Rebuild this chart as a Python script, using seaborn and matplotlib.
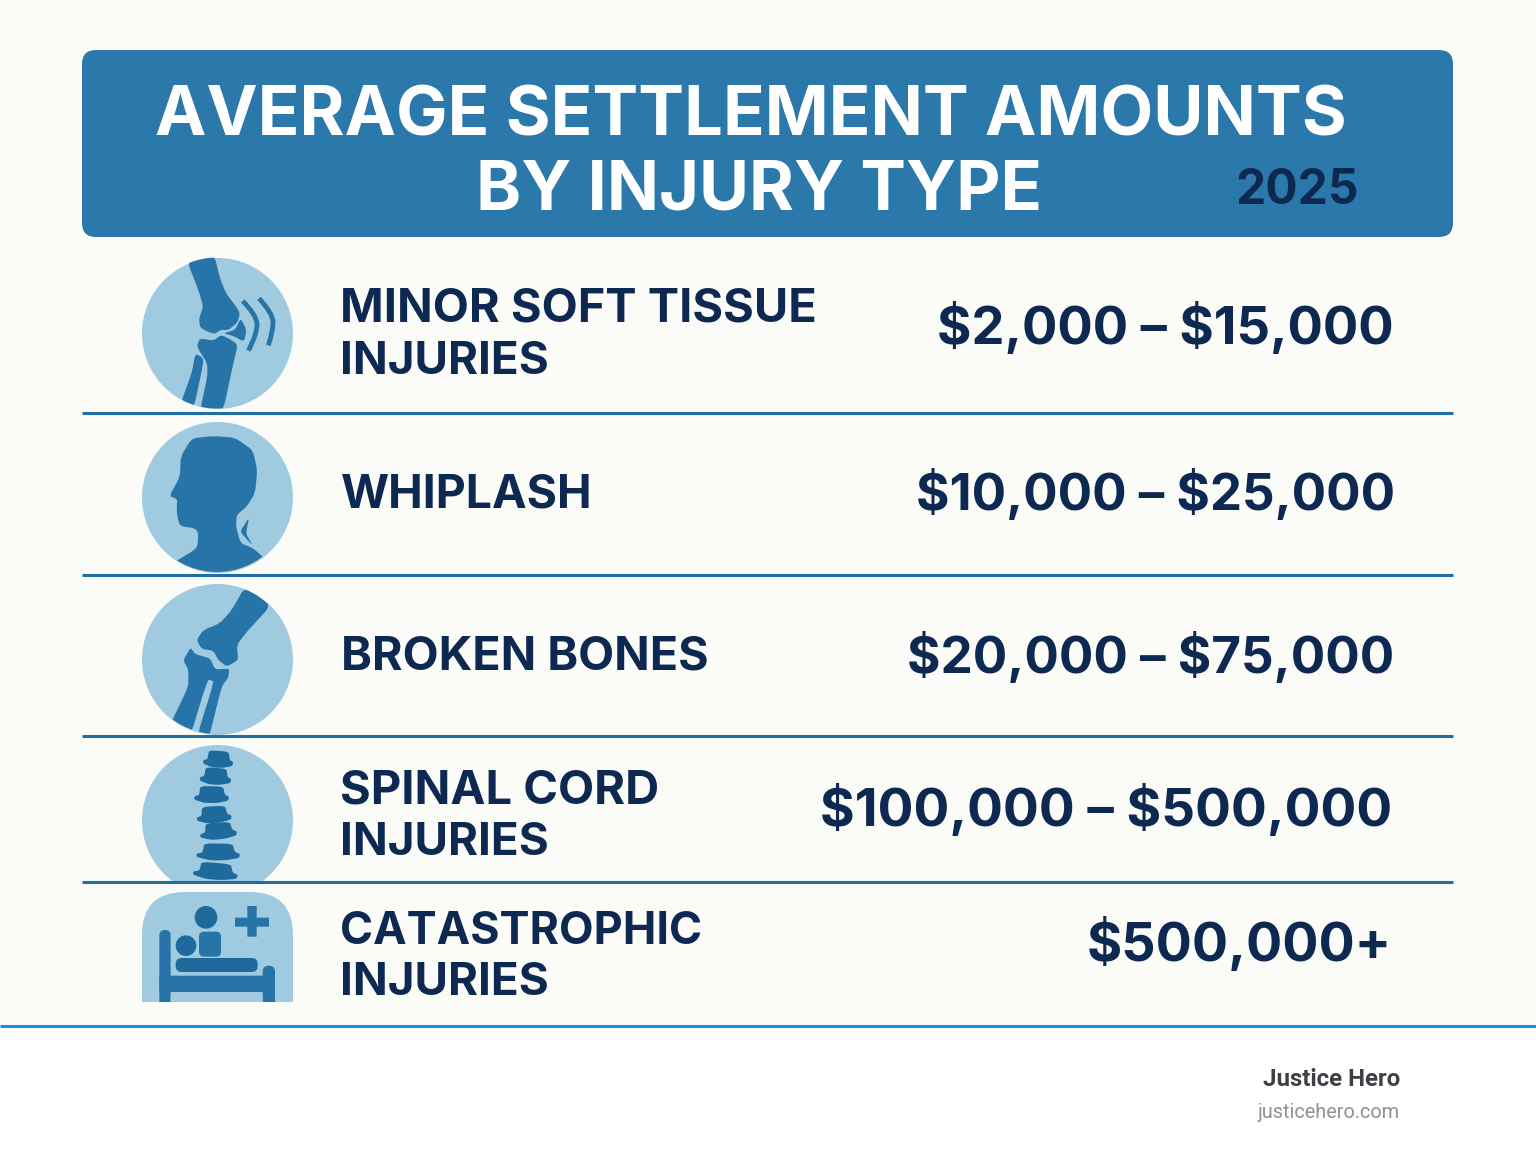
"""
Average settlement amounts by injury type, drawn as a table style infographic.
"""

import matplotlib
matplotlib.use("Agg")
import matplotlib.pyplot as plt
import numpy as np
import pandas as pd
import seaborn as sns
from matplotlib.patches import FancyBboxPatch, PathPatch, Rectangle, Circle
from matplotlib.path import Path

TITLE_LINES = ["AVERAGE SETTLEMENT AMOUNTS", "BY INJURY TYPE"]
YEAR_LABEL = "2025"
INJURY_LABELS = [
    ["MINOR SOFT TISSUE", "INJURIES"],
    ["WHIPLASH"],
    ["BROKEN BONES"],
    ["SPINAL CORD", "INJURIES"],
    ["CATASTROPHIC", "INJURIES"],
]
AMOUNT_LABELS = [
    "$2,000 – $15,000",
    "$10,000 – $25,000",
    "$20,000 – $75,000",
    "$100,000 – $500,000",
    "$500,000+",
]
FOOTER_NAME = "Justice Hero"
FOOTER_URL = "justicehero.com"

BG = "#FBFBF7"
BANNER = "#2B78AB"
NAVY = "#0D2951"
BADGE = "#A0CADF"
ICON = "#2775A8"
ICON_DK = "#1F6A9C"
RULE = "#1F6FA5"
FONT = "Inter"

sns.set_theme(style="white")
plt.rcParams["font.family"] = [FONT, "DejaVu Sans"]

fig = plt.figure(figsize=(15.36, 11.54), dpi=100, facecolor="white")
ax = fig.add_axes([0, 0, 1, 1])
ax.set_xlim(0, 1536)
ax.set_ylim(1154, 0)
ax.axis("off")


def fit_text(s, x0, x1, base, color=NAVY, weight="bold", family=FONT, z=6):
    # scale font size so the string spans x0..x1 in pixels
    t = ax.text(x0, base, s, color=color, fontweight=weight, family=[family, "DejaVu Sans"],
                fontsize=30, ha="left", va="baseline", zorder=z, parse_math=False)
    w = t.get_window_extent(fig.canvas.get_renderer()).width
    t.set_fontsize(30 * (x1 - x0) / w)
    return t


def blob(points, ox, oy, color=ICON, z=3, clip=None, t=0.28):
    # closed shape from zoomed-in sketch coords (1/3 px), corners rounded a bit
    pts = np.array(points, dtype=float) / 3 + [ox, oy]
    prev_pts = np.roll(pts, 1, axis=0)
    next_pts = np.roll(pts, -1, axis=0)
    verts, codes = [], []
    for p, a, b in zip(pts, prev_pts, next_pts):
        verts += [p + t * (a - p), p, p + t * (b - p)]
        codes += [Path.LINETO, Path.CURVE3, Path.CURVE3]
    codes[0] = Path.MOVETO
    patch = PathPatch(Path(verts, codes), fc=color, ec="none", zorder=z)
    ax.add_patch(patch)
    if clip is not None:
        patch.set_clip_path(clip)
    return patch


def stroke(points, ox, oy, width, color=ICON, z=3):
    pts = np.array(points, dtype=float) / 3 + [ox, oy]
    verts = [pts[0]]
    codes = [Path.MOVETO]
    for i in range(1, len(pts) - 1):
        end = pts[i + 1] if i == len(pts) - 2 else (pts[i] + pts[i + 1]) / 2
        verts += [pts[i], end]
        codes += [Path.CURVE3, Path.CURVE3]
    ax.add_patch(PathPatch(Path(verts, codes), fc="none", ec=color, lw=width * 0.72,
                           capstyle="butt", zorder=z))


def rbox(x0, y0, x1, y1, r, color, ox, oy, z=3):
    x0, x1 = x0 / 3 + ox, x1 / 3 + ox
    y0, y1 = y0 / 3 + oy, y1 / 3 + oy
    ax.add_patch(FancyBboxPatch((x0 + r, y0 + r), x1 - x0 - 2 * r, y1 - y0 - 2 * r,
                                boxstyle=f"round,pad={r},rounding_size={r}",
                                fc=color, ec="none", zorder=z))


def dot(x, y, r, color, ox, oy, z=3):
    ax.add_patch(Circle((x / 3 + ox, y / 3 + oy), r / 3, fc=color, ec="none", zorder=z))


# page areas
ax.add_patch(Rectangle((0, 0), 1536, 1025, fc=BG, ec="none", zorder=0))
ax.plot([0, 1536], [1025.5, 1025.5], color="#1590DC", lw=2.2, zorder=9, solid_capstyle="butt")

# banner
ax.add_patch(FancyBboxPatch((96, 64), 1343, 159, boxstyle="round,pad=14,rounding_size=14",
                            fc=BANNER, ec="none", zorder=1))
fit_text(TITLE_LINES[0], 155, 1346, 135, color="white")
fit_text(TITLE_LINES[1], 476, 1042, 210, color="white")
fit_text(YEAR_LABEL, 1235, 1358, 204, color=NAVY)

# round badges behind the first four icons
badges = pd.DataFrame({"x": [217, 217, 217, 217], "y": [333, 497, 659, 820]})
sns.scatterplot(data=badges, x="x", y="y", s=(2 * 75.5 * 0.72) ** 2, color=BADGE,
                linewidth=0, ax=ax, zorder=2, legend=False)
ax.set_xlim(0, 1536)
ax.set_ylim(1154, 0)

# knee icon
clip1 = Circle((217, 333), 75.5, transform=ax.transData)
OX, OY = 120, 250
blob([(200, 30), (283, 15), (300, 85), (318, 130), (345, 165), (360, 190),
      (352, 218), (325, 240), (300, 240), (285, 252), (262, 245), (240, 232), (237, 205),
      (250, 170), (235, 120)], OX, OY, clip=clip1)
blob([(362, 205), (380, 240), (372, 275), (340, 258), (310, 250), (345, 240)], OX, OY)
blob([(240, 265), (280, 272), (305, 254), (354, 282), (340, 340), (308, 490),
      (238, 490), (262, 380), (262, 340), (230, 290)], OX, OY, clip=clip1)
blob([(226, 310), (250, 325), (248, 350), (220, 480), (180, 465), (215, 370)], OX, OY, clip=clip1)
stroke([(368, 153), (410, 195), (412, 250), (385, 302)], OX, OY, 4.8)
stroke([(417, 145), (458, 190), (460, 240), (445, 286)], OX, OY, 4.8)

# head icon
clip2 = Circle((217, 497), 75, transform=ax.transData)
blob([(160, 938), (232, 895), (235, 850), (225, 835), (180, 828), (172, 800), (170, 770),
      (172, 748), (148, 738), (180, 680), (182, 620), (215, 565), (280, 558), (345, 563),
      (398, 600), (412, 660), (405, 730), (380, 770), (350, 795), (348, 830), (362, 880), (395, 892),
      (435, 925), (380, 985), (290, 985), (200, 985)], OX, OY, clip=clip2)
blob([(387, 803), (360, 845), (398, 887), (378, 850)], OX, OY, t=0.2)

# elbow icon
clip3 = Circle((217, 659), 75, transform=ax.transData)
OX, OY = 120, 580
blob([(375, 20), (455, 75), (385, 150), (350, 195), (355, 240), (320, 260),
      (295, 240), (280, 212), (245, 207), (230, 180), (250, 150), (300, 130), (335, 90)],
     OX, OY, clip=clip3)
blob([(212, 203), (225, 222), (270, 235), (285, 268), (328, 266), (325, 292), (305, 320), (265, 480),
      (232, 465), (282, 305), (265, 298), (250, 340), (212, 465), (150, 435), (205, 320),
      (205, 270), (190, 240)], OX, OY, clip=clip3, t=0.22)

# spine icon
# cx, cy, bottom width, tilt in degrees
VERTEBRA_SHAPE = [(-0.33, -0.5), (0.33, -0.47), (0.38, 0.02), (0.5, 0.14), (0.48, 0.38), (0.15, 0.52),
                  (-0.2, 0.52), (-0.5, 0.32), (-0.5, 0.12), (-0.36, 0.04)]
for cx, cy, w, tilt in [(295, 537, 90, 3), (287, 588, 94, 3), (275, 643, 104, 0), (282, 703, 104, -4),
                        (295, 752, 110, -5), (295, 815, 130, 0), (287, 873, 134, 4)]:
    a = np.radians(tilt)
    rot = np.array([[np.cos(a), -np.sin(a)], [np.sin(a), np.cos(a)]])
    shape = np.array(VERTEBRA_SHAPE) * [w, 50]
    blob((shape @ rot.T) + [cx, cy], OX, OY, color=ICON_DK)

# cover the badge and spine below the row rule
ax.add_patch(Rectangle((130, 882), 180, 20, fc=BG, ec="none", zorder=4))

# hospital icon
rx0, rx1, ry0, ry1 = 142, 293, 892, 1002
ax.add_patch(PathPatch(Path(
    [(rx0, ry1), (rx0, 935), (rx0, ry0), (185, ry0), (250, ry0), (rx1, ry0), (rx1, 935), (rx1, ry1), (rx0, ry1)],
    [Path.MOVETO, Path.LINETO, Path.CURVE3, Path.CURVE3, Path.LINETO, Path.CURVE3, Path.CURVE3,
     Path.LINETO, Path.CLOSEPOLY]), fc=BADGE, ec="none", zorder=5))
rbox(118, 1050, 152, 1330, 5.5, ICON, OX, OY, z=6)
rbox(428, 1157, 465, 1330, 6, ICON, OX, OY, z=6)
rbox(118, 1187, 465, 1236, 1, ICON, OX, OY, z=6)
rbox(167, 1134, 413, 1176, 6, ICON_DK, OX, OY, z=6)
rbox(237, 1055, 303, 1130, 5, ICON, OX, OY, z=6)
dot(198, 1097, 31, ICON_DK, OX, OY, z=6)
dot(258, 1012, 34, ICON_DK, OX, OY, z=6)
rbox(382, 978, 410, 1070, 0.5, ICON, OX, OY, z=6)
rbox(345, 1013, 447, 1040, 0.5, ICON, OX, OY, z=6)
rbox(152, 1236, 428, 1290, 5, BADGE, OX, OY, z=7)
ax.add_patch(Rectangle((130, 1002), 180, 23, fc=BG, ec="none", zorder=8))

# row rules
for y in [413, 575, 736, 882]:
    ax.plot([82, 1453], [y, y], color=RULE, lw=2.2, zorder=5, solid_capstyle="butt")

# row text
LABEL_SPANS = [[(340, 815, 322), (340, 549, 374)],
               [(341, 593, 508)],
               [(341, 708, 670)],
               [(340, 659, 804), (340, 549, 855)],
               [(340, 702, 944), (340, 549, 995)]]
AMOUNT_SPANS = [(937, 1393, 344), (916, 1393, 510), (907, 1393, 673), (820, 1390, 826), (1087, 1391, 961)]

for lines, spans, amount, a_span in zip(INJURY_LABELS, LABEL_SPANS, AMOUNT_LABELS, AMOUNT_SPANS):
    for line, (x0, x1, base) in zip(lines, spans):
        fit_text(line, x0, x1, base)
    fit_text(amount, *a_span)

# footer
ax.text(1400, 1080, FOOTER_NAME, color="#3D4045", fontweight="bold", family=["Roboto", "DejaVu Sans"],
        fontsize=17.3, ha="right", va="center")
ax.text(1400, 1112, FOOTER_URL, color="#8E9196", family=["Roboto", "DejaVu Sans"],
        fontsize=14.3, ha="right", va="center")

fig.savefig("out.png", dpi=100, facecolor="white")
